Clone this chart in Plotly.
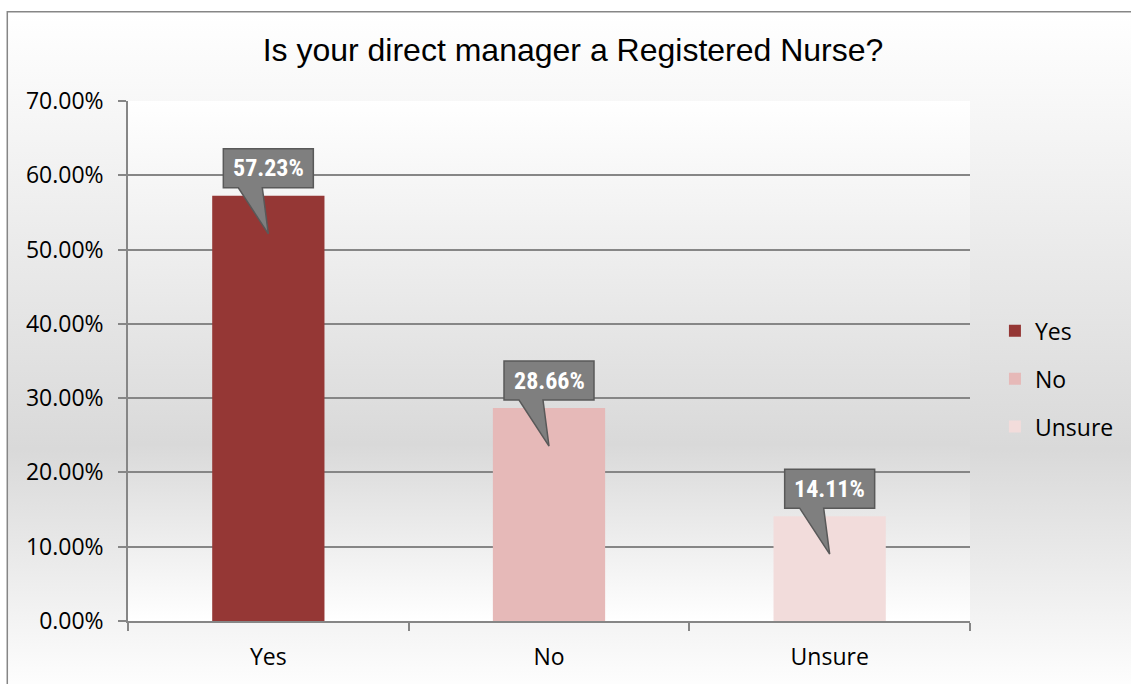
import base64
import plotly.graph_objects as go

# ---------------- data ----------------
categories = ["Yes", "No", "Unsure"]
values = [0.5723, 0.2866, 0.1411]
bar_colors = ["#953735", "#E6B9B8", "#F2DCDB"]
y_ticks = [0.0, 0.1, 0.2, 0.3, 0.4, 0.5, 0.6, 0.7]
chart_title = "Is your direct manager a Registered Nurse?"

# ---------------- geometry ----------------
W, H = 1131, 684
ML, MR, MT, MB = 128, 159, 101, 59
PW = W - ML - MR
PH = H - MT - MB


def fx(px):
    return (px - ML) / PW


def fy(py):
    return (H - MB - py) / PH


def gradient_uri(stops):
    st = "".join(f'<stop offset="{o}" stop-color="{c}"/>' for o, c in stops)
    svg = (
        '<svg xmlns="http://www.w3.org/2000/svg" width="10" height="100" '
        'viewBox="0 0 10 100" preserveAspectRatio="none"><defs>'
        f'<linearGradient id="g" x1="0" y1="0" x2="0" y2="1">{st}</linearGradient>'
        '</defs><rect x="0" y="0" width="10" height="100" fill="url(#g)"/></svg>'
    )
    return "data:image/svg+xml;base64," + base64.b64encode(svg.encode()).decode()


paper_grad = gradient_uri([(0, "#ffffff"), (0.64, "#d9d9d9"), (1, "#ffffff")])
plot_grad = gradient_uri([(0, "#ffffff"), (0.66, "#d9d9d9"), (1, "#ffffff")])

fig = go.Figure()
for i, (cat, val, col) in enumerate(zip(categories, values, bar_colors)):
    fig.add_trace(go.Bar(
        x=[cat], y=[val], name=cat, marker=dict(color=col, line=dict(width=0)),
        width=0.4, legendgroup=cat, hoverinfo="x+y",
    ))

shapes = []
annotations = []
callout = "M -45,47 L 45,47 L 45,8 L -6,8 L 0,-38 L -30,8 L -45,8 Z"
for i, val in enumerate(values):
    shapes.append(dict(
        type="path", xref="x", yref="y", xsizemode="pixel", ysizemode="pixel",
        xanchor=i, yanchor=val, path=callout,
        fillcolor="#7f7f7f", line=dict(color="#595959", width=1.5), layer="above",
    ))
    annotations.append(dict(
        x=categories[i], y=val, xref="x", yref="y", text=f"<b>{val * 100:.2f}%</b>",
        showarrow=False, yshift=27.5, xanchor="center", yanchor="middle",
        font=dict(family="Liberation Sans Narrow, Roboto Condensed, Roboto", size=24, color="white"),
    ))

# chart border
shapes.append(dict(
    type="rect", xref="paper", yref="paper", x0=fx(7), x1=fx(1200), y0=fy(11), y1=fy(760),
    line=dict(color="#868686", width=1.5), fillcolor="rgba(0,0,0,0)", layer="below",
))

images = [
    dict(source=paper_grad, xref="paper", yref="paper", x=fx(7), y=fy(11),
         sizex=fx(1140) - fx(7), sizey=fy(11) - fy(700), xanchor="left", yanchor="top",
         sizing="stretch", layer="below"),
    dict(source=plot_grad, xref="paper", yref="paper", x=0, y=1, sizex=1, sizey=1,
         xanchor="left", yanchor="top", sizing="stretch", layer="below"),
]

axis_font = dict(family="Open Sans, Noto Sans, sans-serif", size=23, color="#000000")

fig.update_layout(
    width=W, height=H,
    margin=dict(l=ML, r=MR, t=MT, b=MB, pad=0),
    paper_bgcolor="#ffffff", plot_bgcolor="rgba(0,0,0,0)",
    barmode="overlay",
    title=dict(text=chart_title, x=573 / W, xref="container", xanchor="center",
               y=1 - 50 / H, yref="container", yanchor="middle",
               font=dict(family="Liberation Sans, Arial, sans-serif", size=32, color="#000000")),
    xaxis=dict(type="category", categoryorder="array", categoryarray=categories,
               showline=True, linecolor="#868686", linewidth=1.5,
               ticks="outside", tickson="boundaries", ticklen=8, tickcolor="#868686", tickwidth=1.5,
               showgrid=False, tickfont=axis_font, ticklabelstandoff=15, fixedrange=True),
    yaxis=dict(range=[0, 0.7], tickvals=y_ticks, tickformat=".2%",
               showline=True, linecolor="#868686", linewidth=1.5,
               ticks="outside", ticklen=8, tickcolor="#868686", tickwidth=1.5,
               showgrid=True, gridcolor="#868686", gridwidth=1.5, zeroline=False,
               tickfont=axis_font, ticklabelstandoff=10, fixedrange=True),
    legend=dict(x=fx(997), xanchor="left", y=fy(381), yanchor="middle",
                font=axis_font, bgcolor="rgba(0,0,0,0)", traceorder="grouped",
                tracegroupgap=15),
    shapes=shapes, annotations=annotations, images=images,
    showlegend=True,
)

fig.write_html(
    "out.html",
    config={"displayModeBar": False},
    post_script="document.body.style.margin='0';document.body.style.overflow='hidden';",
)
